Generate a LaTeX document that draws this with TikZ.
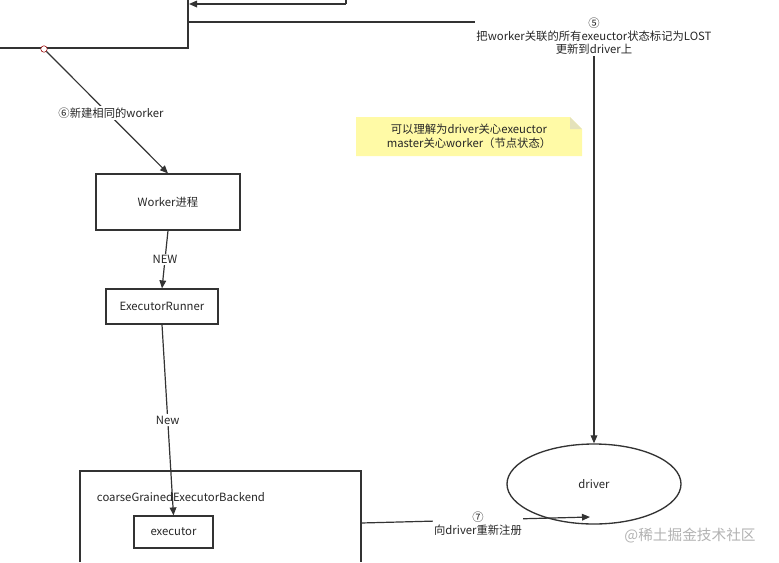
\documentclass[tikz,border=0pt]{standalone}
\usepackage{fontspec}
\setmainfont{Noto Sans CJK SC}
\usetikzlibrary{arrows.meta,shapes.geometric}
\begin{document}
\begin{tikzpicture}[x=0.75pt,y=-0.75pt,
  line/.style={draw=black!80,line width=0.9pt},
  arr/.style={line,-{Triangle[length=6pt,width=5pt]}},
  lbl/.style={fill=white,inner sep=1pt,font=\fontsize{8.5pt}{10pt}\selectfont,align=center,text=black!85},
  boxn/.style={draw=black!80,line width=0.9pt,font=\fontsize{8.5pt}{10pt}\selectfont,text=black!85}]
\useasboundingbox (0,0) rectangle (779,562);
% top partial box
\coordinate (t0) at (0,48);
\coordinate (t1) at (188,48);
\coordinate (t2) at (188,0);
\draw[line] (t0) -- (t1) -- (t2);
\coordinate (i0) at (346,0);
\coordinate (i1) at (346,4);
\coordinate (i2) at (189,4);
\draw[line] (i0) -- (i1);
\draw[arr] (i1) -- (i2);
% nodes
\node[boxn,minimum width=144*0.75pt,minimum height=56*0.75pt] (worker) at (168,202) {Worker进程};
\node[boxn,minimum width=112*0.75pt,minimum height=35*0.75pt] (runner) at (162,306.5) {ExecutorRunner};
\draw[line] (80,562) -- (80,471) -- (361,471) -- (361,562);
\node[font=\fontsize{8.5pt}{10pt}\selectfont,text=black!85] (cgeb) at (181,497) {coarseGrainedExecutorBackend};
\coordinate (bigR) at (361,523);
\node[boxn,minimum width=79*0.75pt,minimum height=32*0.75pt] (exec) at (173.5,532) {executor};
\node[draw=black!80,line width=1pt,ellipse,minimum width=174*0.75pt,minimum height=80*0.75pt,font=\fontsize{8.5pt}{10pt}\selectfont,text=black!85] (driver) at (594,484) {driver};
% note
\fill[yellow!35] (356,117) -- (570,117) -- (582,129) -- (582,156) -- (356,156) -- cycle;
\fill[yellow!60!black!30] (570,117) -- (570,129) -- (582,129) -- cycle;
\node[font=\fontsize{8.5pt}{10.5pt}\selectfont,align=center,text=black!85] (note) at (469,136) {可以理解为driver关心exeuctor\\master关心worker（节点状态）};
% circle and arrow 6
\node[draw=red!60!black,fill=white,circle,inner sep=0pt,minimum size=6.5*0.75pt] (c6) at (44,49) {};
\draw[arr] (c6) -- (worker.north);
\node[lbl] at (111,113) {⑥新建相同的worker};
% arrow 5
\coordinate (f5) at (188,22);
\coordinate (k5) at (594,22);
\draw[arr] (f5) -- (k5) -- (driver.north);
\node[lbl] at (594,36) {⑤\\把worker关联的所有exeuctor状态标记为LOST\\更新到driver上};
% worker -> runner
\draw[arr] (worker.south) -- (runner.north) node[lbl,pos=0.5] {NEW};
\draw[arr] (runner.south) -- (exec.north) node[lbl,pos=0.5] {New};
% 7
\coordinate (d7) at (590,517);
\draw[arr] (bigR) -- (d7);
\node[lbl] at (478,524) {⑦\\向driver重新注册};
\node[font=\fontsize{11pt}{12pt}\selectfont,text=black!30] (wm) at (690,536) {@稀土掘金技术社区};
\end{tikzpicture}
\end{document}
